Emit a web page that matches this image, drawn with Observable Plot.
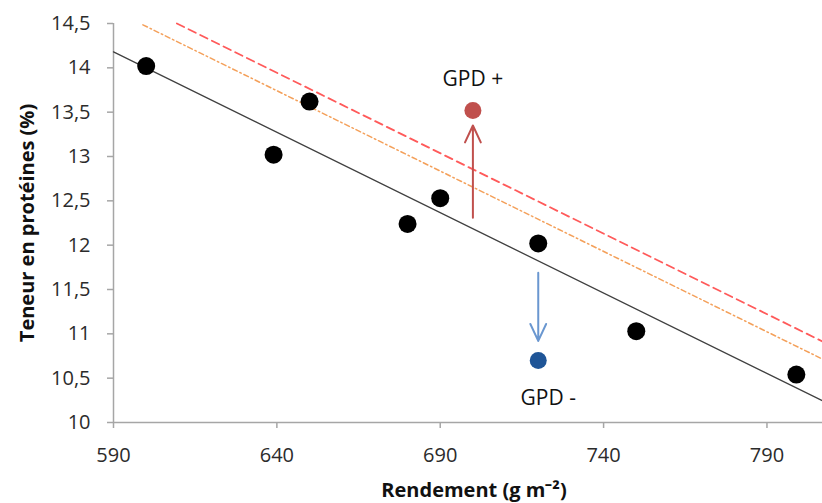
<!DOCTYPE html>
<html>
<head>
<meta charset="utf-8">
<script src="https://cdn.jsdelivr.net/npm/d3@7"></script>
<script src="https://cdn.jsdelivr.net/npm/@observablehq/plot@0.6"></script>
<style>
  html, body { margin: 0; padding: 0; background: #fff; }
  #chart { width: 822px; height: 503px; }
</style>
</head>
<body>
<div id="chart"></div>
<script>
// Observed points
const yieldX = [600, 639, 650, 680, 690, 720, 750, 799];
const protein = [14.02, 13.02, 13.62, 12.24, 12.53, 12.02, 11.03, 10.54];

// Regression line (black) and shifted lines (orange dash-dot, red dashed)
const lineX = [590, 807];
const lineY = [14.18, 10.245];
const orangeX = [599, 807];
const orangeY = [14.485, 10.715];
const redX = [609.4, 807];
const redY = [14.5, 10.914];

// GPD points and arrows
const gpdLabels = ["GPD +", "GPD -"];
const gpdX = [700, 720];
const gpdY = [13.52, 10.70];
const gpdColors = ["#c0504d", "#1f5597"];
const arrowX = [700, 720];
const arrowY1 = [12.31, 11.69];
const arrowY2 = [13.35, 10.92];
const arrowColors = ["#c0504d", "#6a97d0"];

// Axes
const xTicks = [590, 640, 690, 740, 790];
const yTicks = [10, 10.5, 11, 11.5, 12, 12.5, 13, 13.5, 14, 14.5];
const xTitle = "Rendement (g m⁻²)";
const yTitle = "Teneur en protéines (%)";

const pts = yieldX.map((x, i) => ({x, y: protein[i]}));
const mk = (xs, ys) => xs.map((x, i) => ({x, y: ys[i]}));
const gpd = gpdLabels.map((label, i) => ({label, x: gpdX[i], y: gpdY[i], c: gpdColors[i]}));
const arrows = arrowX.map((x, i) => ({x, y1: arrowY1[i], y2: arrowY2[i], c: arrowColors[i]}));
const fmt = d => String(d).replace(".", ",");

const chart = Plot.plot({
  width: 822,
  height: 503,
  marginLeft: 113,
  marginTop: 23,
  marginBottom: 81,
  marginRight: 0,
  style: {fontFamily: "'Open Sans', sans-serif", fontSize: "20px", background: "#fff", color: "#333"},
  x: {domain: [590, 807]},
  y: {domain: [10, 14.5]},
  marks: [
    Plot.axisY({ticks: yTicks, tickFormat: fmt, tickSize: 6, tickPadding: 17, label: null,
      stroke: "#a6a6a6", strokeWidth: 1.5, fill: "#2b2b2b", fontSize: 20}),
    Plot.axisX({ticks: xTicks, tickSize: 6, tickPadding: 19, label: null,
      stroke: "#a6a6a6", strokeWidth: 1.5, fill: "#2b2b2b", fontSize: 20}),
    Plot.ruleX([590], {stroke: "#a6a6a6", strokeWidth: 1.5}),
    Plot.ruleY([10], {stroke: "#a6a6a6", strokeWidth: 1.5}),
    Plot.line(mk(lineX, lineY), {x: "x", y: "y", stroke: "#404040", strokeWidth: 1.3}),
    Plot.line(mk(orangeX, orangeY), {x: "x", y: "y", stroke: "#f4a05a", strokeWidth: 1.5, strokeDasharray: "5 3 1.5 3"}),
    Plot.line(mk(redX, redY), {x: "x", y: "y", stroke: "#ff5a5a", strokeWidth: 1.8, strokeDasharray: "8 5"}),
    Plot.arrow(arrows, {x: "x", y1: "y1", y2: "y2", stroke: "c", strokeWidth: 2, headLength: 14, headAngle: 50}),
    Plot.dot(pts, {x: "x", y: "y", r: 9, fill: "#000"}),
    Plot.dot(gpd, {x: "x", y: "y", r: 8.5, fill: "c"}),
    Plot.text([gpd[0]], {x: "x", y: "y", text: "label", dy: -31, fontSize: 21, fill: "#111"}),
    Plot.text([gpd[1]], {x: "x", y: "y", text: "label", dx: 10, dy: 38, fontSize: 21, fill: "#111"}),
    Plot.text([yTitle], {frameAnchor: "left", textAnchor: "middle", lineAnchor: "middle", rotate: -90, dx: -86, fontWeight: "bold", fontSize: 20, fill: "#111"}),
    Plot.text([xTitle], {frameAnchor: "bottom", textAnchor: "middle", lineAnchor: "middle", dx: 6, dy: 68, fontWeight: "bold", fontSize: 20, fill: "#111"})
  ]
});
document.getElementById("chart").appendChild(chart);
</script>
</body>
</html>
